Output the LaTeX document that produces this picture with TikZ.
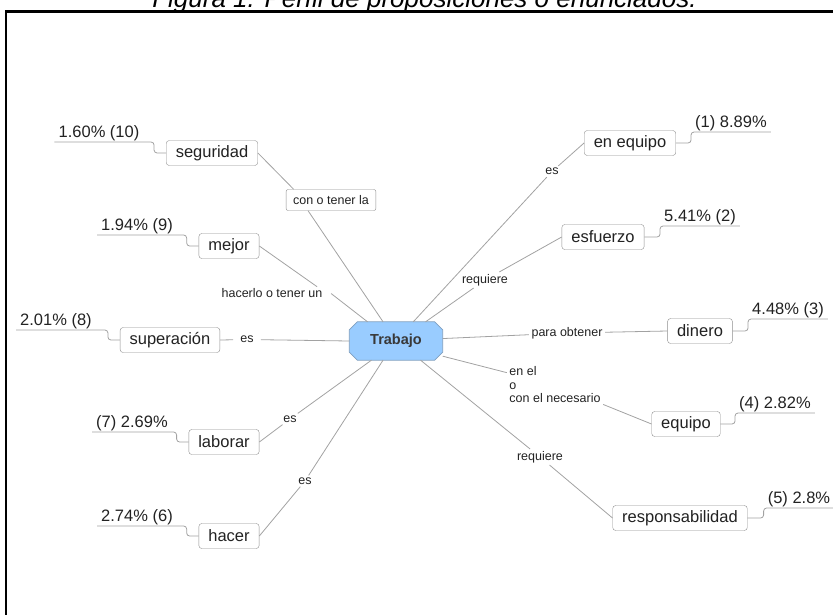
\documentclass[tikz,border=0pt]{standalone}
\usepackage{fontspec}
\setmainfont{Liberation Sans}
\usepackage{tikz}
\usetikzlibrary{backgrounds}
\definecolor{linegray}{HTML}{A2A2A2}
\definecolor{boxgray}{HTML}{8E8E8E}
\definecolor{textdark}{HTML}{222222}
\definecolor{trabfill}{HTML}{99CCFF}
\definecolor{trabline}{HTML}{7F9FBF}
\newcommand{\wordfont}{\fontsize{16.5}{19}\selectfont}
\newcommand{\labelfont}{\fontsize{12.5}{13.5}\selectfont}

\begin{document}
\begin{tikzpicture}[x=1pt, y=-1pt,
    word/.style={draw=boxgray, fill=white, rounded corners=3pt, inner xsep=9.5pt, inner ysep=0pt, minimum height=25pt, font=\wordfont, text=textdark},
    pct/.style={anchor=south, inner xsep=4pt, inner ysep=1pt, font=\wordfont, text=textdark},
    lbl/.style={inner xsep=2.5pt, inner ysep=2pt, font=\labelfont, text=textdark},
    conn/.style={draw=linegray, line width=0.8pt},
    stepline/.style={draw=linegray, line width=0.8pt, rounded corners=3pt}]
        \useasboundingbox (0,0) rectangle (833,614);
        \clip (0,0) rectangle (833,614);
        \node [anchor=base, font=\fontsize{26}{30}\selectfont\itshape] (title) at (424.5,7.3) {Figura 1. Perfil de proposiciones o enunciados.};
        \draw [line width=2.2pt] (6,630) -- (6,11.5) -- (850,11.5);
        \node [minimum width=93pt, minimum height=38pt, inner sep=0pt, font=\fontsize{14.5}{16}\selectfont\bfseries, text=textdark!90] (trab) at (396,341) {Trabajo};
        \begin{scope}[on background layer]
            \filldraw [draw=trabline, fill=trabfill, line width=0.8pt] ([xshift=8pt]trab.north west) -- ([xshift=-8pt]trab.north east) -- ([yshift=-8pt]trab.north east) -- ([yshift=8pt]trab.south east) -- ([xshift=-8pt]trab.south east) -- ([xshift=8pt]trab.south west) -- ([yshift=8pt]trab.south west) -- ([yshift=-8pt]trab.north west) -- cycle;
        \end{scope}
        \node [word] (seg) at (212,153) {seguridad};
        \node [word] (mej) at (229,246) {mejor};
        \node [word] (sup) at (170,340) {superación};
        \node [word] (lab) at (224,442) {laborar};
        \node [word] (hac) at (229,536) {hacer};
        \node [word] (eqp) at (630,143) {en equipo};
        \node [word] (esf) at (603,237) {esfuerzo};
        \node [word] (din) at (700,331) {dinero};
        \node [word] (equ) at (686,424) {equipo};
        \node [word] (res) at (680,518) {responsabilidad};
        \node [pct] (pc10) at (99,142) {1.60\% (10)};
        \node [pct] (pc9) at (137,235) {1.94\% (9)};
        \node [pct] (pc8) at (56,330) {2.01\% (8)};
        \node [pct] (pc7) at (132,432) {(7) 2.69\%};
        \node [pct] (pc6) at (137,526) {2.74\% (6)};
        \node [pct] (pc1) at (731,132) {(1) 8.89\%};
        \node [pct] (pc2) at (700,226) {5.41\% (2)};
        \node [pct] (pc3) at (788,319) {4.48\% (3)};
        \node [pct] (pc4) at (775,413) {(4) 2.82\%};
        \node [pct] (pc5) at (799,508) {(5) 2.8\%};
        \node [word, rounded corners=2pt, inner xsep=7pt, minimum height=21pt, font=\labelfont] (conl) at (331,200) {con o tener la};
        \node [lbl] (hacl) at (272,293.5) {hacerlo o tener un};
        \node [lbl, inner xsep=7pt] (es8) at (247,339.5) {es};
        \node [lbl] (es7) at (290,419) {es};
        \node [lbl] (es6) at (305,481) {es};
        \node [lbl] (es1) at (552,171.5) {es};
        \node [lbl] (req1) at (485,280) {requiere};
        \node [lbl] (para) at (567,333) {para obtener};
        \node [lbl, align=left] (enel) at (555,385) {en el\\o\\con el necesario};
        \node [lbl] (req2) at (540,457) {requiere};
        \draw [conn] (seg.east) -- (conl.164);
        \draw [conn] (conl.205) -- (trab.124);
        \draw [conn] (mej.east) -- ([xshift=-8pt]hacl.north east);
        \draw [conn] ([xshift=6pt]hacl.east) -- (trab.146);
        \draw [conn] (sup.east) -- (es8) -- (trab.west);
        \draw [conn] (lab.east) -- (es7) -- (trab.218);
        \draw [conn] (hac.east) -- (es6) -- (trab.236);
        \draw [conn] (trab.48) -- (es1) -- (eqp.west);
        \draw [conn] (trab.33) -- (req1) -- (esf.west);
        \draw [conn] (trab.3) -- (para) -- (din.west);
        \draw [conn] (trab.342) -- (enel) -- (equ.west);
        \draw [conn] (trab.322) -- (req2) -- (res.west);
        \foreach \p/\b in {pc10/seg, pc9/mej, pc8/sup, pc7/lab, pc6/hac}
            \draw [stepline] (\p.south west) -| ([xshift=-12pt]\b.west) -- (\b.west);
        \foreach \b/\p in {eqp/pc1, esf/pc2, din/pc3, equ/pc4, res/pc5}
            \draw [stepline] (\b.east) -| (\p.south west) -- (\p.south east);
    \end{tikzpicture}
\end{document}
